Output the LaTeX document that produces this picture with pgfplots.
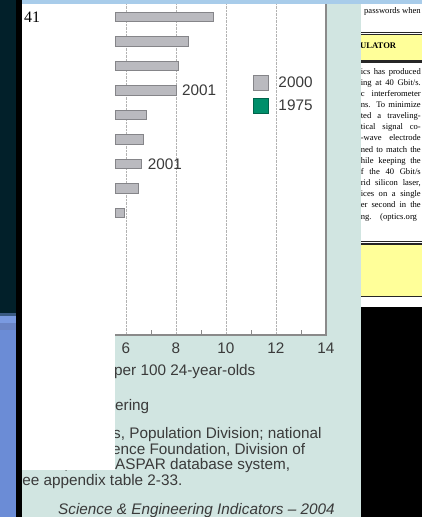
\documentclass[border=0pt]{standalone}
\usepackage{pgfplots}
\pgfplotsset{compat=1.18}
\usepackage{fontspec}
\setmainfont{Liberation Sans}
\newfontfamily\docserif{Liberation Serif}
\definecolor{panelteal}{HTML}{D1E5E1}
\definecolor{navy}{HTML}{02202A}
\definecolor{barfill}{HTML}{BABABF}
\definecolor{bardraw}{HTML}{858589}
\definecolor{greenleg}{HTML}{008F6B}
\definecolor{txt}{HTML}{3A3A3A}
\definecolor{axgray}{HTML}{8A8A8A}
\definecolor{topblue}{HTML}{A8CCEA}
\definecolor{docyellow}{HTML}{FFFF99}
\definecolor{blueA}{HTML}{7A9AE0}
\definecolor{blueB}{HTML}{6A84C4}
\definecolor{blueC}{HTML}{6B8CD6}
\definecolor{blueD}{HTML}{3A5A82}
\newcommand\sz{\fontsize{15.3}{18}\selectfont}
\newcommand\dz{\docserif\fontsize{8.6}{10}\selectfont}
\newcommand\docline[2]{\node[anchor=base east, inner sep=0pt] at (421,#1) {\dz\makebox[60pt][s]{#2}};}
\begin{document}
\begin{tikzpicture}[x=1pt,y=-1pt]
\useasboundingbox (0,0) rectangle (422,517);
\clip (0,0) rectangle (422,517);
\fill[white] (0,0) rectangle (422,517);
% ---- document column on the right
\node[anchor=base east, inner sep=0pt] at (421,13) {\dz passwords when};
\fill[black!85] (361,31.5) rectangle (422,33.2);
\fill[black!85] (361,34.2) rectangle (422,35);
\fill[docyellow] (361,35) rectangle (422,59.5);
\fill[black!85] (361,59.5) rectangle (422,60.3);
\fill[black!85] (361,61) rectangle (422,62.8);
\node[anchor=base west, inner sep=0pt] at (360,48.5) {\docserif\bfseries\fontsize{8.6}{10}\selectfont ULATOR};
\docline{74}{ics has produced}
\docline{85.2}{ing at 40 Gbit/s.}
\docline{96.3}{c interferometer}
\docline{107.5}{ns. To minimize}
\docline{118.6}{ted a traveling-}
\docline{129.8}{tical signal co-}
\docline{140.9}{-wave electrode}
\docline{152.1}{ned to match the}
\docline{163.2}{hile keeping the}
\docline{174.4}{f the 40 Gbit/s}
\docline{185.5}{rid silicon laser,}
\docline{196.7}{ices on a single}
\docline{207.8}{er second in the}
\docline{219}{ng.\quad (optics.org}
\fill[black!85] (361,241) rectangle (422,242);
\fill[black!85] (361,243.3) rectangle (422,245.3);
\fill[docyellow] (361,245.3) rectangle (422,296);
\fill[black!85] (361,296) rectangle (422,297);
\fill[black] (361,307) rectangle (422,517);
% ---- teal panel of the figure
\fill[panelteal] (22,0) rectangle (361,517);
\begin{scope}[text=txt]
\node[anchor=base west, inner sep=0pt] at (114,375) {\sz per 100 24-year-olds};
\node[anchor=base west, inner sep=0pt] at (115,410) {\sz ering};
\node[anchor=base west, inner sep=0pt] at (113,438) {\sz s, Population Division; national};
\node[anchor=base west, inner sep=0pt] at (112,454) {\sz ence Foundation, Division of};
\node[anchor=base west, inner sep=0pt] at (115,469) {\sz ASPAR database system,};
\node[anchor=base east, inner sep=0pt] at (115,469) {\sz atistics; WebC};
\node[anchor=base west, inner sep=0pt] at (12,485) {\sz See appendix table 2-33.};
\node[anchor=base west, inner sep=0pt] at (58,514) {\sz\itshape Science \& Engineering Indicators – 2004};
\end{scope}
% ---- the chart
\begin{scope}[x=1cm,y=1cm]
\begin{axis}[
  at={(115pt,-335pt)}, anchor=south west,
  scale only axis, width=211pt, height=335pt,
  xmin=5.56, xmax=14, ymin=0.306, ymax=13.98, y dir=reverse,
  axis background/.style={fill=white},
  axis line style={draw=none},
  xtick={6,8,10,12,14},
  minor xtick={7,9,11,13},
  xtick pos=lower, ytick=\empty,
  major tick length=0pt, minor tick length=5pt, tick align=inside,
  minor tick style={axgray, line width=0.8pt},
  xmajorgrids, major grid style={densely dotted, gray!60, line width=0.8pt},
  xticklabel style={font=\sz, text=txt, yshift=-4.5pt},
  /pgf/number format/assume math mode=true,
  clip mode=individual,
  legend style={at={(0.654,0.776)}, anchor=north west, draw=none, fill=none, font=\sz, text=txt, row sep=6pt, inner sep=0pt,
    /tikz/every odd column/.append style={column sep=8pt}},
  legend cell align=left,
  after end axis/.code={
    \draw[axgray, line width=1.4pt] (axis cs:5.56,13.98) -- (axis cs:14,13.98) -- (axis cs:14,0.306);
  },
]
\addplot[xbar, bar width=9.5pt, bar shift=0pt, fill=barfill, draw=bardraw, line width=0.8pt, forget plot]
  coordinates {(9.5,1) (8.49,2) (8.09,3) (8.0,4) (6.8,5) (6.69,6) (6.63,7) (6.51,8) (5.92,9)};
\addlegendimage{legend image code/.code={\draw[fill=barfill, draw=bardraw, line width=0.8pt] (0pt,-7.5pt) rectangle (14.5pt,7.5pt);}}
\addlegendentry{2000}
\addlegendimage{legend image code/.code={\draw[fill=greenleg, draw=greenleg!70!black, line width=0.8pt] (0pt,-7.5pt) rectangle (14.5pt,7.5pt);}}
\addlegendentry{1975}
\node[anchor=west, inner sep=0pt, font=\sz, text=txt, xshift=6pt] at (axis cs:8.0,4) {2001};
\node[anchor=west, inner sep=0pt, font=\sz, text=txt, xshift=6pt] at (axis cs:6.63,7) {2001};
\end{axis}
\end{scope}
% ---- overlapping window on the left
\fill[white] (22,4) rectangle (115,470);
\node[anchor=base west, inner sep=0pt] at (24,22) {\docserif\fontsize{16}{16}\selectfont 41};
\fill[black] (16,0) rectangle (22,517);
\fill[navy] (0,0) rectangle (16,313);
\fill[blueD] (0,313) rectangle (16,316);
\fill[blueA] (0,316) rectangle (16,323);
\fill[blueB] (0,323) rectangle (16,330);
\fill[blueC] (0,330) rectangle (16,517);
\fill[topblue] (22,0) rectangle (422,4);
\end{tikzpicture}
\end{document}
